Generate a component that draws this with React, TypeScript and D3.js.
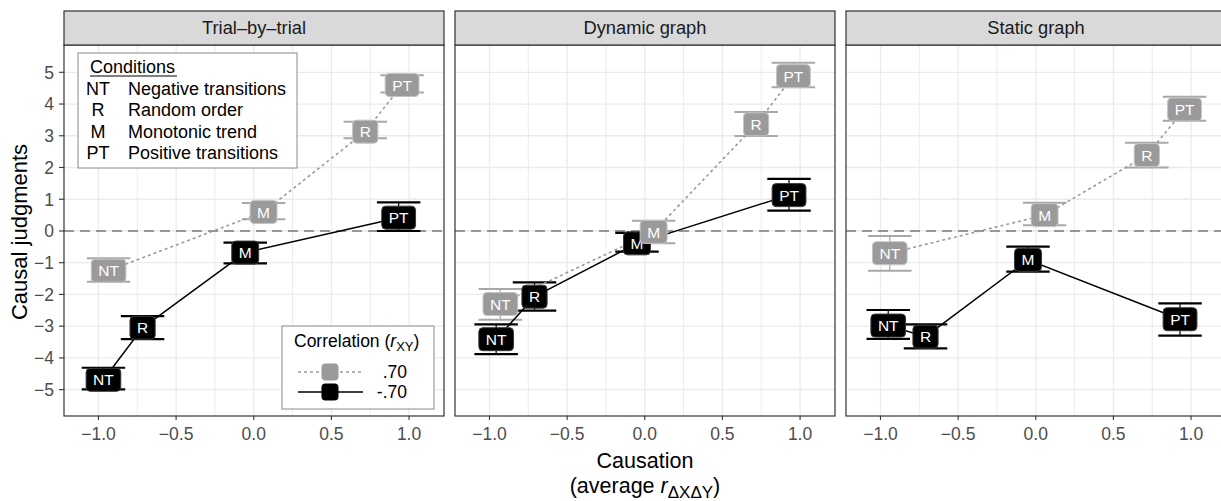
import React from "react";
import * as d3 from "d3";

const panels = ["Trial\u2013by\u2013trial", "Dynamic graph", "Static graph"];
const conditions = ["NT", "R", "M", "PT"];
const conditionNames = ["Negative transitions", "Random order", "Monotonic trend", "Positive transitions"];
const correlations = [".70", "-.70"];

// conditions in order NT, R, M, PT; one row per panel
const posX = [
  [-0.935, 0.718, 0.063, 0.955],
  [-0.93, 0.717, 0.057, 0.957],
  [-0.94, 0.715, 0.057, 0.958],
];
const posY = [
  [-1.25, 3.13, 0.6, 4.6],
  [-2.3, 3.36, -0.03, 4.88],
  [-0.7, 2.39, 0.5, 3.83],
];
const posLo = [
  [-1.6, 2.92, 0.37, 4.36],
  [-2.8, 2.99, -0.39, 4.53],
  [-1.25, 2.0, 0.18, 3.47],
];
const posHi = [
  [-0.86, 3.44, 0.88, 4.91],
  [-1.83, 3.75, 0.32, 5.3],
  [-0.16, 2.78, 0.89, 4.23],
];
const negX = [
  [-0.968, -0.716, -0.055, 0.933],
  [-0.957, -0.71, -0.05, 0.929],
  [-0.95, -0.71, -0.05, 0.929],
];
const negY = [
  [-4.69, -3.05, -0.68, 0.42],
  [-3.41, -2.07, -0.39, 1.13],
  [-2.98, -3.33, -0.91, -2.78],
];
const negLo = [
  [-4.99, -3.41, -1.02, 0.0],
  [-3.88, -2.51, -0.65, 0.64],
  [-3.4, -3.7, -1.28, -3.3],
];
const negHi = [
  [-4.31, -2.68, -0.37, 0.9],
  [-2.94, -1.62, -0.06, 1.64],
  [-2.49, -2.94, -0.49, -2.28],
];

const xTicks = [-1, -0.5, 0, 0.5, 1];
const xMinor = [-0.75, -0.25, 0.25, 0.75];
const yTicks = [-5, -4, -3, -2, -1, 0, 1, 2, 3, 4, 5];

const FONT = "'Liberation Sans', Arial, Helvetica, sans-serif";
const W = 1221;
const H = 501;
const left0 = 64;
const panelW = 380;
const gap = 11;
const stripTop = 11;
const plotTop = 45;
const plotBottom = 416;
const capHalf = 0.14;

const series = [
  { fill: "#9a9a9a", stroke: "#c4c4c4", line: "#9a9a9a", dash: "3,3", err: "#a8a8a8", errW: 2 },
  { fill: "#000", stroke: "#3a3a3a", line: "#000", dash: null, err: "#000", errW: 2.2 },
];

const charW: Record<string, number> = { N: 0.722, T: 0.611, R: 0.722, M: 0.833, P: 0.667 };
const labelW = (t: string) => t.split("").reduce((s, ch) => s + (charW[ch] || 0.6) * 15.5, 0) + 14;

const fmtX = (v: number) => (v < 0 ? "\u2212" : "") + Math.abs(v).toFixed(1);
const fmtY = (v: number) => (v < 0 ? "\u2212" : "") + Math.abs(v);

export default function App() {
  const y = d3.scaleLinear().domain([-5.83, 5.86]).range([plotBottom, plotTop]);

  return (
    <svg width={W} height={H} style={{ position: "absolute", left: 0, top: 0, fontFamily: FONT }}>
      <rect width={W} height={H} fill="#fff" />
      {panels.map((title, p) => {
        const left = left0 + p * (panelW + gap);
        const x = d3.scaleLinear().domain([-1.222, 1.225]).range([left, left + panelW]);
        const pts = [0, 1].flatMap((s) =>
          conditions.map((c, i) => ({
            s,
            c,
            x: s === 0 ? posX[p][i] : negX[p][i],
            y: s === 0 ? posY[p][i] : negY[p][i],
            lo: s === 0 ? posLo[p][i] : negLo[p][i],
            hi: s === 0 ? posHi[p][i] : negHi[p][i],
          }))
        );
        const line = d3.line<{ x: number; y: number }>().x((d) => x(d.x)).y((d) => y(d.y));
        const byX = [...pts].sort((a, b) => a.x - b.x);
        return (
          <g key={title}>
            <rect x={left} y={plotTop} width={panelW} height={plotBottom - plotTop} fill="#fff" />
            {xMinor.map((t) => (
              <line key={"m" + t} x1={x(t)} x2={x(t)} y1={plotTop} y2={plotBottom} stroke="#ebebeb" strokeWidth={1} />
            ))}
            {xTicks.map((t) => (
              <line key={"M" + t} x1={x(t)} x2={x(t)} y1={plotTop} y2={plotBottom} stroke="#ebebeb" strokeWidth={1.3} />
            ))}
            {yTicks.map((t) => (
              <line key={"y" + t} x1={left} x2={left + panelW} y1={y(t)} y2={y(t)} stroke="#ebebeb" strokeWidth={1.3} />
            ))}
            <line x1={left} x2={left + panelW} y1={y(0)} y2={y(0)} stroke="#7a7a7a" strokeWidth={1.3} strokeDasharray="10,6" />
            {pts.map((d, i) => {
              const st = series[d.s];
              return (
                <g key={"e" + i} stroke={st.err} strokeWidth={st.errW}>
                  <line x1={x(d.x)} x2={x(d.x)} y1={y(d.lo)} y2={y(d.hi)} strokeWidth={1.2} />
                  <line x1={x(d.x - capHalf)} x2={x(d.x + capHalf)} y1={y(d.lo)} y2={y(d.lo)} />
                  <line x1={x(d.x - capHalf)} x2={x(d.x + capHalf)} y1={y(d.hi)} y2={y(d.hi)} />
                </g>
              );
            })}
            {[0, 1].map((s) => (
              <path
                key={"l" + s}
                d={line(pts.filter((d) => d.s === s).sort((a, b) => a.x - b.x)) || ""}
                fill="none"
                stroke={series[s].line}
                strokeWidth={s === 0 ? 1.6 : 1.5}
                strokeDasharray={series[s].dash || undefined}
              />
            ))}
            {byX.map((d, i) => {
              const st = series[d.s];
              const w = labelW(d.c);
              return (
                <g key={"b" + i}>
                  <rect x={x(d.x) - w / 2} y={y(d.y) - 11.5} width={w} height={23} rx={4} fill={st.fill} stroke={st.stroke} strokeWidth={1} />
                  <text x={x(d.x)} y={y(d.y)} dy="0.36em" textAnchor="middle" fill="#fff" fontSize={15.5}>
                    {d.c}
                  </text>
                </g>
              );
            })}
            <rect x={left} y={plotTop} width={panelW} height={plotBottom - plotTop} fill="none" stroke="#333" strokeWidth={1.2} />
            <rect x={left} y={stripTop} width={panelW} height={plotTop - stripTop} fill="#d9d9d9" stroke="#333" strokeWidth={1.2} />
            <text x={left + panelW / 2} y={(stripTop + plotTop) / 2} dy="0.35em" textAnchor="middle" fontSize={18.3} fill="#1a1a1a">
              {title}
            </text>
            {xTicks.map((t) => (
              <g key={"t" + t}>
                <line x1={x(t)} x2={x(t)} y1={plotBottom} y2={plotBottom + 4} stroke="#333" strokeWidth={1.1} />
                <text x={x(t)} y={plotBottom + 18} dy="0.36em" textAnchor="middle" fontSize={17.5} fill="#4d4d4d">
                  {fmtX(t)}
                </text>
              </g>
            ))}
          </g>
        );
      })}

      {yTicks.map((t) => (
        <g key={"yt" + t}>
          <line x1={left0 - 5} x2={left0} y1={y(t)} y2={y(t)} stroke="#333" strokeWidth={1.1} />
          <text x={left0 - 10} y={y(t)} dy="0.36em" textAnchor="end" fontSize={17.5} fill="#4d4d4d">
            {fmtY(t)}
          </text>
        </g>
      ))}

      <text transform="translate(27,232) rotate(-90)" textAnchor="middle" fontSize={22} fill="#000">
        Causal judgments
      </text>
      <text x={645} y={468} textAnchor="middle" fontSize={21.5} fill="#000">
        Causation
      </text>
      <text x={645} y={493} textAnchor="middle" fontSize={21.5} fill="#000">
        (average <tspan fontStyle="italic">r</tspan>
        <tspan fontSize={17} dy={5}>ΔXΔY</tspan>
        <tspan dy={-5}>)</tspan>
      </text>

      {/* conditions legend */}
      <g>
        <rect x={78} y={53} width={219} height={115} fill="#fff" stroke="#8a8a8a" strokeWidth={1} />
        <text x={90} y={73} fontSize={18} fill="#000">Conditions</text>
        <line x1={90} x2={177} y1={76} y2={76} stroke="#000" strokeWidth={1} />
        {conditions.map((c, i) => (
          <g key={c}>
            <text x={98} y={95 + i * 21.3} textAnchor="middle" fontSize={18} fill="#000">{c}</text>
            <text x={128} y={95 + i * 21.3} fontSize={18} fill="#000">{conditionNames[i]}</text>
          </g>
        ))}
      </g>

      {/* correlation legend */}
      <g>
        <rect x={282} y={326} width={152} height={83} fill="#fff" stroke="#8a8a8a" strokeWidth={1} />
        <text x={294} y={347} fontSize={17.5} fill="#000">
          Correlation (<tspan fontStyle="italic">r</tspan>
          <tspan fontSize={13} dy={4}>XY</tspan>
          <tspan dy={-4}>)</tspan>
        </text>
        {correlations.map((c, i) => {
          const st = series[i];
          const cy = 372 + i * 20;
          return (
            <g key={c}>
              <line x1={298} x2={363} y1={cy} y2={cy} stroke={st.line} strokeWidth={1.6} strokeDasharray={st.dash || undefined} />
              <rect x={321.5} y={cy - 8.5} width={17} height={17} rx={4} fill={st.fill} />
              <text x={407} y={cy} dy="0.36em" textAnchor="end" fontSize={17.5} fill="#000">{c}</text>
            </g>
          );
        })}
      </g>
    </svg>
  );
}
